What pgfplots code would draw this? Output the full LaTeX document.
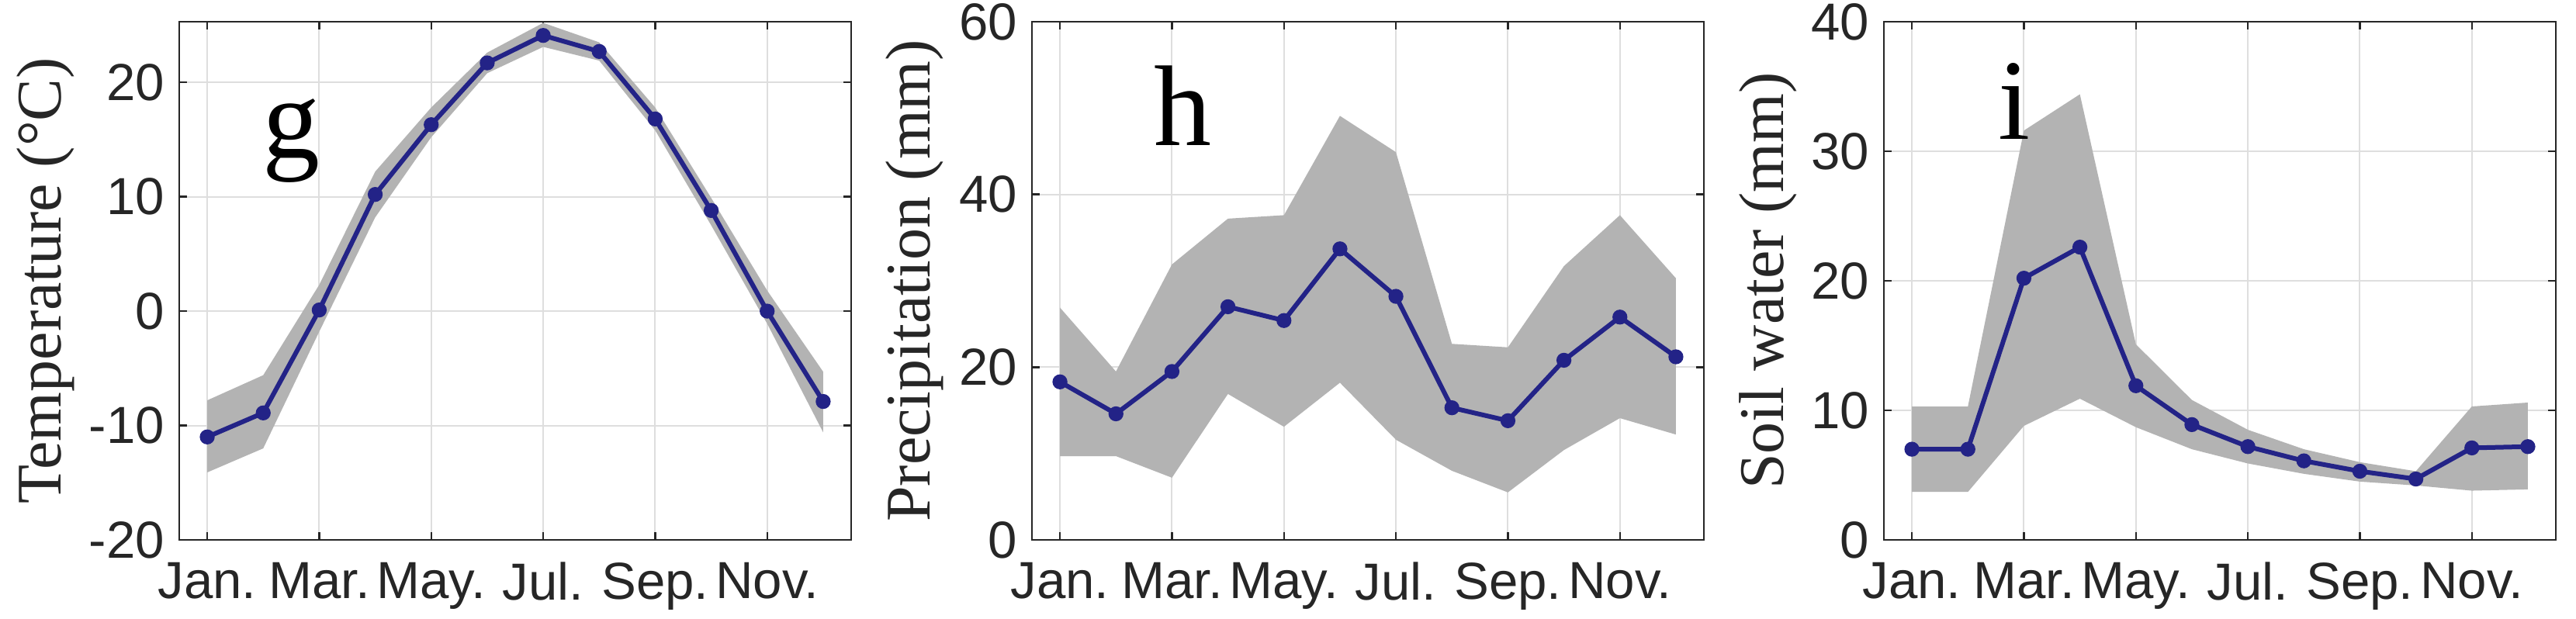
\documentclass[border=0pt]{standalone}
\usepackage{fontspec}
\setmainfont{Liberation Serif}
\newfontfamily\arial{Liberation Sans}
\usepackage{pgfplots}
\pgfplotsset{compat=1.18}
\usepgfplotslibrary{fillbetween}
\usepackage{pgfplotstable}

\definecolor{linecol}{RGB}{35,35,135}
\definecolor{bandgray}{RGB}{179,179,179}
\definecolor{gridgray}{RGB}{222,222,222}
\definecolor{axisgray}{RGB}{38,38,38}

% month, mean, lower, upper
\pgfplotstableread{
m mean lo hi
1 -11.0 -14.1 -7.8
2 -8.9 -12.0 -5.6
3 0.1 -1.8 2.3
4 10.2 8.2 12.2
5 16.3 15.2 17.8
6 21.7 20.8 22.6
7 24.1 23.1 25.2
8 22.7 21.9 23.5
9 16.8 15.8 17.8
10 8.8 7.5 9.9
11 0.0 -1.1 1.8
12 -7.9 -10.6 -5.3
}\tabT

\pgfplotstableread{
m mean lo hi
1 18.3 9.7 26.9
2 14.6 9.7 19.5
3 19.5 7.2 31.9
4 27.0 16.9 37.2
5 25.4 13.1 37.6
6 33.7 18.2 49.1
7 28.2 11.6 44.9
8 15.3 8.0 22.7
9 13.8 5.5 22.3
10 20.8 10.4 31.7
11 25.8 14.1 37.6
12 21.2 12.2 30.3
}\tabP

\pgfplotstableread{
m mean lo hi
1 7.0 3.7 10.3
2 7.0 3.7 10.3
3 20.2 8.8 31.6
4 22.6 10.9 34.4
5 11.9 8.7 15.1
6 8.9 7.0 10.8
7 7.2 5.9 8.5
8 6.1 5.1 7.0
9 5.3 4.5 6.0
10 4.7 4.2 5.3
11 7.1 3.8 10.3
12 7.2 3.9 10.6
}\tabS

\pgfplotsset{
  panel/.style={
    scale only axis,
    width=216.5pt, height=167pt,
    anchor=south west,
    xmin=0.5, xmax=12.5,
    xtick={1,3,5,7,9,11},
    xticklabels={Jan.,Mar.,May.,Jul.,Sep.,Nov.},
    tick align=inside,
    major tick length=2.5pt,
    grid=major,
    grid style={gridgray, line width=0.5pt},
    axis line style={axisgray, line width=0.6pt},
    tick style={axisgray, line width=0.6pt},
    /pgf/number format/assume math mode=true,
    yticklabel style={font=\arial\fontsize{16.8}{18}\selectfont, text=axisgray,
      inner sep=0.5pt, xshift=-4.1pt},
    xticklabel style={font=\arial\fontsize{16.8}{18}\selectfont, text=axisgray,
      inner sep=0.5pt, yshift=-6.6pt},
    label style={font=\fontsize{20.5}{22}\selectfont, text=axisgray},
  },
  band/.style={bandgray, draw=none},
  meanline/.style={linecol, line width=1.5pt, mark=*, mark size=1.65pt,
    mark options={solid, draw=none, fill=linecol}},
}

\begin{document}
\begin{tikzpicture}

\begin{axis}[panel, at={(57.75pt,25.25pt)},
  ymin=-20, ymax=25.3, ytick={-20,-10,0,10,20},
  ylabel={Temperature (°C)},
  ylabel style={at={(axis description cs:-0.199,0.5)}, anchor=center}]
\addplot[draw=none, name path=hiT] table[x=m, y=hi] {\tabT};
\addplot[draw=none, name path=loT] table[x=m, y=lo] {\tabT};
\addplot[band] fill between[of=hiT and loT];
\addplot[meanline] table[x=m, y=mean] {\tabT};
\node[font=\fontsize{37}{37}\selectfont, anchor=base] at (axis cs:2.5,13.4) {g};
\end{axis}

\begin{axis}[panel, at={(332.5pt,25.25pt)},
  ymin=0, ymax=60, ytick={0,20,40,60},
  ylabel={Precipitation (mm)},
  ylabel style={at={(axis description cs:-0.175,0.5)}, anchor=center}]
\addplot[draw=none, name path=hiP] table[x=m, y=hi] {\tabP};
\addplot[draw=none, name path=loP] table[x=m, y=lo] {\tabP};
\addplot[band] fill between[of=hiP and loP];
\addplot[meanline] table[x=m, y=mean] {\tabP};
\node[font=\fontsize{37}{37}\selectfont, anchor=base] at (axis cs:3.2,45.7) {h};
\end{axis}

\begin{axis}[panel, at={(607pt,25.25pt)},
  ymin=0, ymax=40, ytick={0,10,20,30,40},
  ylabel={Soil water (mm)},
  ylabel style={at={(axis description cs:-0.172,0.5)}, anchor=center}]
\addplot[draw=none, name path=hiS] table[x=m, y=hi] {\tabS};
\addplot[draw=none, name path=loS] table[x=m, y=lo] {\tabS};
\addplot[band] fill between[of=hiS and loS];
\addplot[meanline] table[x=m, y=mean] {\tabS};
\node[font=\fontsize{37}{37}\selectfont, anchor=base] at (axis cs:2.83,30.9) {i};
\end{axis}

\pgfresetboundingbox
\path[use as bounding box] (0,0) rectangle (830pt,199.25pt);
\end{tikzpicture}
\end{document}
